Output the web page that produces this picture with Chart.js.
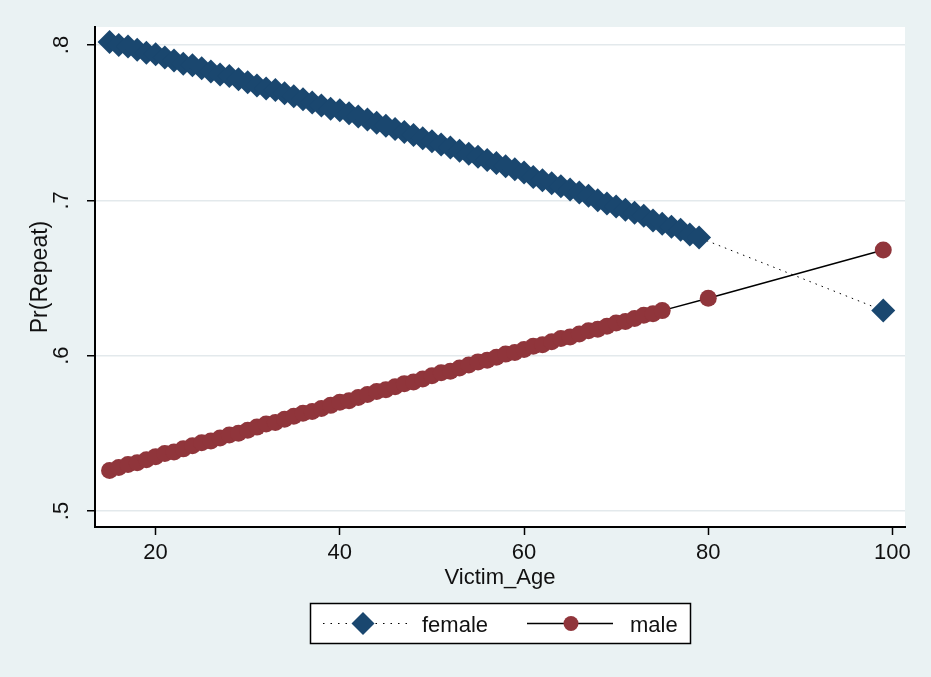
<!DOCTYPE html>
<html>
<head>
<meta charset="utf-8">
<script src="https://cdn.jsdelivr.net/npm/chart.js@4"></script>
<style>
  html, body { margin: 0; padding: 0; background: #EAF2F3; }
  canvas { display: block; }
</style>
</head>
<body>
<canvas id="c" width="931" height="677"></canvas>
<script>
// ---- data ----
const femaleAges = [15,16,17,18,19,20,21,22,23,24,25,26,27,28,29,30,31,32,33,34,35,36,37,38,39,40,41,42,43,44,45,46,47,48,49,50,51,52,53,54,55,56,57,58,59,60,61,62,63,64,65,66,67,68,69,70,71,72,73,74,75,76,77,78,79,99];
const femaleProb = [0.802,0.800,0.799,0.797,0.795,0.794,
  0.792,0.790,0.788,0.787,0.785,
  0.783,0.781,0.780,0.778,0.776,
  0.774,0.772,0.771,0.769,0.767,
  0.765,0.763,0.761,0.759,0.758,
  0.756,0.754,0.752,0.750,0.748,
  0.746,0.744,0.742,0.740,0.738,
  0.736,0.734,0.732,0.730,0.728,
  0.726,0.724,0.722,0.720,0.718,
  0.715,0.713,0.711,0.709,0.707,
  0.705,0.703,0.700,0.698,0.696,
  0.694,0.692,0.690,0.687,0.685,
  0.683,0.681,0.678,0.676,
  0.629];
const maleAges = [15,16,17,18,19,20,21,22,23,24,25,26,27,28,29,30,31,32,33,34,35,36,37,38,39,40,41,42,43,44,45,46,47,48,49,50,51,52,53,54,55,56,57,58,59,60,61,62,63,64,65,66,67,68,69,70,71,72,73,74,75,80,99];
const maleProb = [0.526,0.528,0.530,0.531,0.533,0.535,
  0.537,0.538,0.540,0.542,0.544,
  0.545,0.547,0.549,0.550,0.552,
  0.554,0.556,0.557,0.559,0.561,
  0.563,0.564,0.566,0.568,0.570,
  0.571,0.573,0.575,0.577,0.578,
  0.580,0.582,0.583,0.585,0.587,
  0.589,0.590,0.592,0.594,0.596,
  0.597,0.599,0.601,0.602,0.604,
  0.606,0.607,0.609,0.611,0.612,
  0.614,0.616,0.617,0.619,0.621,
  0.622,0.624,0.626,0.627,0.629,
  0.637,0.668];
const seriesLabels = ['female', 'male'];
const xTickValues = [20, 40, 60, 80, 100];
const xTickLabels = ['20', '40', '60', '80', '100'];
const yTickValues = [0.5, 0.6, 0.7, 0.8];
const yTickLabels = ['.5', '.6', '.7', '.8'];
const xTitle = 'Victim_Age';
const yTitle = 'Pr(Repeat)';

// ---- styling ----
const NAVY = '#1A476F';
const MAROON = '#90353B';
const BG = '#EAF2F3';
const FONT = '"Liberation Sans", Arial, sans-serif';
const TXT = '#111111';

const toPts = (xs, ys) => xs.map((x, i) => ({ x: x, y: ys[i] }));

const bgPlugin = {
  id: 'bg',
  beforeDraw(chart) {
    const ctx = chart.ctx, a = chart.chartArea;
    ctx.save();
    ctx.fillStyle = BG;
    ctx.fillRect(0, 0, chart.width, chart.height);
    ctx.fillStyle = '#ffffff';
    ctx.fillRect(a.left, a.top, a.right - a.left, a.bottom - a.top);
    ctx.restore();
  }
};

const yLabelPlugin = {
  id: 'ylabels',
  afterDraw(chart) {
    const ctx = chart.ctx, ys = chart.scales.y;
    ctx.save();
    ctx.fillStyle = TXT;
    ctx.font = '22px ' + FONT;
    ctx.textAlign = 'center';
    ctx.textBaseline = 'alphabetic';
    yTickValues.forEach((v, i) => {
      const py = ys.getPixelForValue(v);
      ctx.save();
      ctx.translate(68, py);
      ctx.rotate(-Math.PI / 2);
      ctx.fillText(yTickLabels[i], 0, 0);
      ctx.restore();
    });
    ctx.restore();
  }
};

const legendPlugin = {
  id: 'stataLegend',
  afterDraw(chart) {
    const ctx = chart.ctx;
    const ds = chart.data.datasets;
    const bx = 310.5, by = 603.5, bw = 380, bh = 40;
    const cy = by + bh / 2;
    ctx.save();
    ctx.fillStyle = '#ffffff';
    ctx.fillRect(bx, by, bw, bh);
    ctx.strokeStyle = '#000';
    ctx.lineWidth = 1.5;
    ctx.strokeRect(bx, by, bw, bh);

    // female key
    ctx.strokeStyle = '#000';
    ctx.lineWidth = 1;
    ctx.setLineDash([1.5, 6]);
    ctx.beginPath(); ctx.moveTo(323, cy); ctx.lineTo(408, cy); ctx.stroke();
    ctx.setLineDash([]);
    ctx.fillStyle = NAVY;
    const r = 11.5, dx = 363;
    ctx.beginPath();
    ctx.moveTo(dx, cy - r); ctx.lineTo(dx + r, cy); ctx.lineTo(dx, cy + r); ctx.lineTo(dx - r, cy);
    ctx.closePath(); ctx.fill();

    // male key
    ctx.strokeStyle = '#000';
    ctx.lineWidth = 1.5;
    ctx.beginPath(); ctx.moveTo(527, cy); ctx.lineTo(613, cy); ctx.stroke();
    ctx.fillStyle = MAROON;
    ctx.beginPath(); ctx.arc(571, cy, 7.5, 0, Math.PI * 2); ctx.fill();

    ctx.fillStyle = TXT;
    ctx.font = '22px ' + FONT;
    ctx.textAlign = 'left';
    ctx.textBaseline = 'alphabetic';
    ctx.fillText(ds[0].label, 422, 631.5);
    ctx.fillText(ds[1].label, 630, 631.5);
    ctx.restore();
  }
};

new Chart(document.getElementById('c'), {
  type: 'line',
  data: {
    datasets: [
      {
        label: seriesLabels[0],
        data: toPts(femaleAges, femaleProb),
        borderColor: '#000',
        borderWidth: 1,
        borderDash: [1.5, 5],
        pointStyle: 'rectRot',
        pointRadius: 12,
        pointBackgroundColor: NAVY,
        pointBorderColor: NAVY,
        pointBorderWidth: 0,
        fill: false,
        tension: 0,
        order: 1
      },
      {
        label: seriesLabels[1],
        data: toPts(maleAges, maleProb),
        borderColor: '#000',
        borderWidth: 1.5,
        pointStyle: 'circle',
        pointRadius: 8.5,
        pointBackgroundColor: MAROON,
        pointBorderColor: MAROON,
        pointBorderWidth: 0,
        fill: false,
        tension: 0,
        order: 2
      }
    ]
  },
  options: {
    responsive: false,
    animation: false,
    events: [],
    layout: { padding: { left: 0, top: 27, right: 26, bottom: 80 } },
    plugins: {
      legend: { display: false },
      tooltip: { enabled: false }
    },
    scales: {
      x: {
        type: 'linear',
        min: 13.42,
        max: 101.36,
        afterBuildTicks(scale) { scale.ticks = xTickValues.map(v => ({ value: v })); },
        afterFit(scale) { scale.height = 70; },
        ticks: {
          callback: (v) => xTickLabels[xTickValues.indexOf(v)],
          font: { family: FONT, size: 22, lineHeight: 1.2 },
          color: TXT,
          padding: 5,
          maxRotation: 0,
          minRotation: 0
        },
        grid: { drawOnChartArea: false, tickLength: 8, tickColor: '#000', tickWidth: 1.5 },
        border: { display: true, color: '#000', width: 2 },
        title: {
          display: true, text: xTitle, color: TXT,
          font: { family: FONT, size: 22, lineHeight: 1.2 },
          padding: { top: 0, bottom: 6 }
        }
      },
      y: {
        type: 'linear',
        min: 0.4897,
        max: 0.81159,
        afterBuildTicks(scale) { scale.ticks = yTickValues.map(v => ({ value: v })); },
        afterFit(scale) { scale.width = 95; },
        ticks: { display: false },
        grid: { color: '#E3E9EC', lineWidth: 1.5, tickLength: 8, tickColor: '#000', tickWidth: 1.5 },
        border: { display: true, color: '#000', width: 2 },
        title: {
          display: true, text: yTitle, color: TXT,
          font: { family: FONT, size: 23, lineHeight: 1.2 },
          padding: { top: 27, bottom: 0 }
        }
      }
    }
  },
  plugins: [bgPlugin, yLabelPlugin, legendPlugin]
});
</script>
</body>
</html>
